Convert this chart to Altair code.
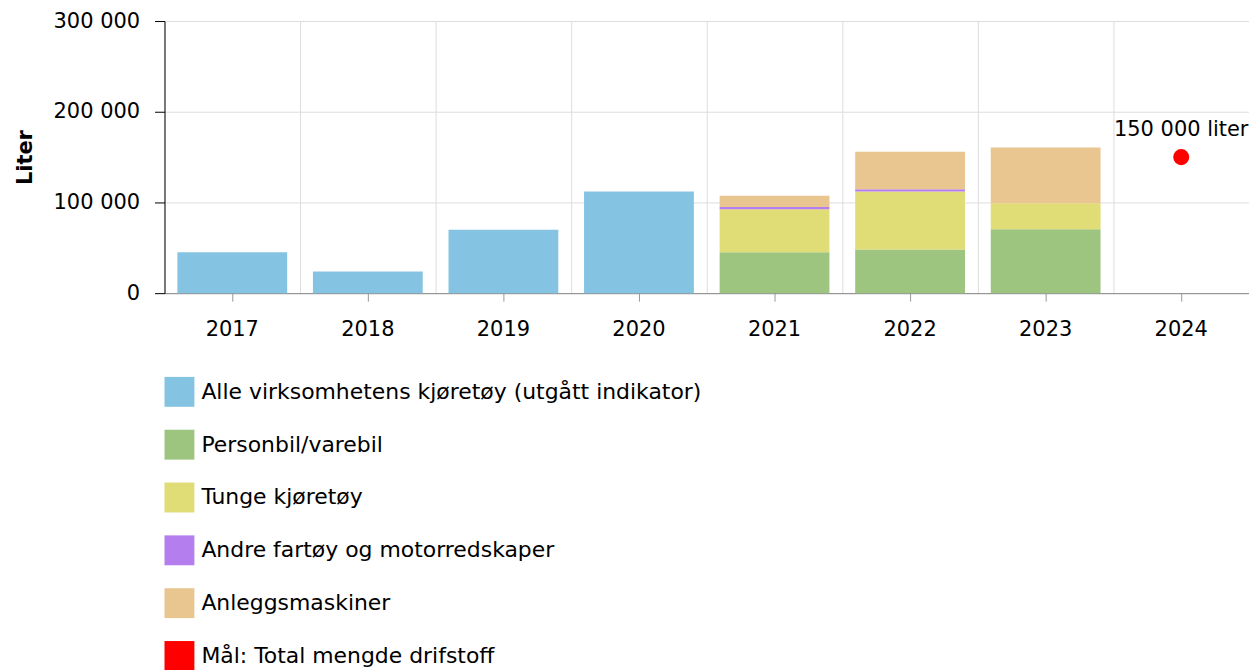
import altair as alt
import pandas as pd

years = ["2017", "2018", "2019", "2020", "2021", "2022", "2023", "2024"]
series = [
    "Alle virksomhetens kjøretøy (utgått indikator)",
    "Personbil/varebil",
    "Tunge kjøretøy",
    "Andre fartøy og motorredskaper",
    "Anleggsmaskiner",
    "Mål: Total mengde drifstoff",
]
colors = ["#85C3E3", "#9DC57F", "#E0DC76", "#B57EEE", "#E9C590", "#FF0000"]

alle = [45000, 24000, 70000, 112000, None, None, None, None]
personbil = [None, None, None, None, 45000, 48000, 70500, None]
tunge = [None, None, None, None, 47500, 64000, 28500, None]
andre = [None, None, None, None, 2500, 2500, None, None]
anlegg = [None, None, None, None, 12500, 41500, 61500, None]

target_year = ["2024"]
target_value = [150000]
target_text = ["150 000 liter"]

rows = []
for idx, vals in enumerate([alle, personbil, tunge, andre, anlegg]):
    for y, v in zip(years, vals):
        if v is not None:
            rows.append({"year": y, "series": series[idx], "value": v, "idx": idx})
bar_df = pd.DataFrame(rows)
target_df = pd.DataFrame({"year": target_year, "value": target_value,
                          "label": target_text, "series": [series[5]]})

FONT = "DejaVu Sans"
FS = 21

color_scale = alt.Scale(domain=series, range=colors)
x_scale = alt.Scale(domain=years, paddingInner=0, paddingOuter=0)
y_scale = alt.Scale(domain=[0, 300000])

y_axis = alt.Axis(
    values=[0, 100000, 200000, 300000],
    labelExpr="replace(format(datum.value, ','), regexp(',', 'g'), ' ')",
    title="Liter", titleFontWeight="bold", titleFontSize=FS, titleColor="black",
    labelFontSize=FS, labelColor="black", tickSize=10, tickColor="black",
    domainColor="black", labelPadding=15, gridColor="#dddddd", titlePadding=18,
)
grid_axis = alt.Axis(orient="top", grid=True, gridColor="#dddddd", bandPosition=0,
                     domain=False, ticks=False, labels=False, title=None)
label_axis = alt.Axis(orient="bottom", grid=False, tickColor="#999999", domainColor="#888888",
                      tickSize=8, labelFontSize=FS, labelColor="black", labelPadding=17,
                      title=None, labelAngle=0)

legend = alt.Legend(
    orient="none", legendX=0, legendY=357, direction="vertical", title=None,
    symbolType="square", symbolSize=900, labelFontSize=22, labelColor="black",
    rowPadding=23, labelOffset=7, symbolOpacity=1, symbolStrokeWidth=0, labelLimit=0,
)

bars = alt.Chart(bar_df).mark_bar(width={"band": 0.81}).encode(
    x=alt.X("year:N", sort=years, scale=x_scale, axis=grid_axis),
    y=alt.Y("value:Q", stack="zero", scale=y_scale, axis=y_axis),
    color=alt.Color("series:N", scale=color_scale, legend=legend),
    order=alt.Order("idx:Q"),
)

point = alt.Chart(target_df).mark_circle(size=260, opacity=1).encode(
    x=alt.X("year:N", sort=years, scale=x_scale, axis=label_axis),
    y=alt.Y("value:Q", scale=y_scale, axis=y_axis),
    color=alt.Color("series:N", scale=color_scale, legend=legend),
)

text = alt.Chart(target_df).mark_text(dy=-27, fontSize=21, color="black", font=FONT).encode(
    x=alt.X("year:N", sort=years, scale=x_scale, axis=None),
    y=alt.Y("value:Q", scale=y_scale, axis=y_axis),
    text="label:N",
)

chart = (
    alt.layer(bars, point, text)
    .resolve_axis(x="independent")
    .properties(width=1088, height=273,
                padding={"left": 6, "top": 1, "right": 0, "bottom": 5})
    .configure(font=FONT)
    .configure_view(stroke=None)
)

chart.save("out.html", embed_options={"renderer": "svg", "actions": False})
